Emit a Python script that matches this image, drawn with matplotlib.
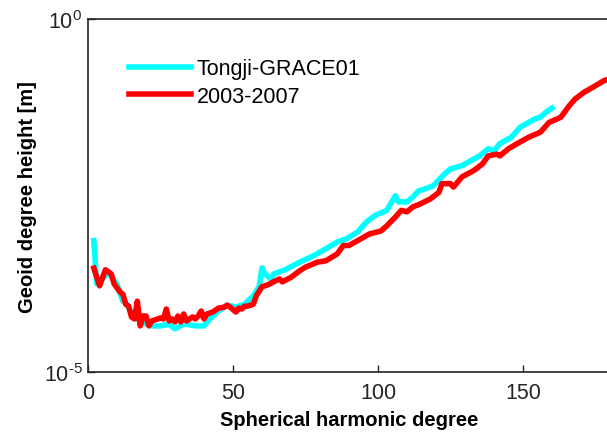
import matplotlib
matplotlib.use('Agg')
import matplotlib.pyplot as plt

plt.rcParams['font.family'] = ['Liberation Sans', 'DejaVu Sans']
plt.rcParams['mathtext.fontset'] = 'custom'
plt.rcParams['mathtext.rm'] = 'Liberation Sans'
plt.rcParams['mathtext.default'] = 'regular'

# Tongji-GRACE01 (degree, geoid degree height in m)
deg_tongji = [2, 3, 5, 7, 10, 12, 13, 15, 17, 18, 22, 25, 28, 30, 33, 37, 40, 42,
              45, 48, 51, 54, 55, 57, 59, 60, 61, 63, 64, 68, 73, 78, 82, 86, 89,
              93, 96, 99, 103, 106, 107, 110, 112, 114, 116, 119, 123, 125, 129,
              132, 135, 138, 140, 142, 146, 149, 152, 154, 156, 158, 160]
val_tongji = [7.30e-4, 1.78e-4, 2.09e-4, 2.61e-4, 1.76e-4, 1.01e-4, 9.74e-5, 6.90e-5,
              5.65e-5, 5.14e-5, 4.51e-5, 4.51e-5, 4.74e-5, 4.09e-5, 4.81e-5, 4.51e-5,
              4.51e-5, 5.65e-5, 7.32e-5, 8.88e-5, 8.33e-5, 9.14e-5, 1.01e-4, 1.20e-4,
              1.62e-4, 2.99e-4, 2.46e-4, 2.09e-4, 2.46e-4, 2.82e-4, 3.61e-4, 4.50e-4,
              5.60e-4, 7.00e-4, 7.71e-4, 9.69e-4, 1.34e-3, 1.66e-3, 1.96e-3, 3.16e-3,
              2.59e-3, 2.59e-3, 3.03e-3, 3.71e-3, 3.92e-3, 4.36e-3, 6.46e-3, 7.60e-3,
              8.44e-3, 9.95e-3, 1.16e-2, 1.47e-2, 1.37e-2, 1.73e-2, 2.14e-2, 2.96e-2,
              3.47e-2, 3.87e-2, 4.12e-2, 4.87e-2, 5.53e-2]

# 2003-2007
deg_0307 = [2, 4, 6, 8, 9, 11, 12, 13, 14, 15, 16, 17, 18, 19, 20, 21, 22, 23, 25,
            26, 27, 28, 29, 30, 31, 32, 33, 34, 36, 37, 38, 39, 40, 41, 43, 45, 47,
            48, 49, 51, 52, 53, 54, 55, 57, 58, 60, 62, 64, 66, 67, 70, 73, 75, 79,
            82, 86, 88, 90, 94, 97, 101, 103, 106, 108, 110, 112, 114, 118, 121,
            122, 125, 126, 129, 133, 136, 138, 141, 142, 145, 149, 152, 156, 159,
            163, 166, 168, 171, 173, 175, 178, 180]
val_0307 = [2.97e-4, 1.67e-4, 2.82e-4, 2.46e-4, 1.78e-4, 1.37e-4, 1.27e-4, 9.14e-5,
            8.59e-5, 6.03e-5, 5.65e-5, 1.01e-4, 4.51e-5, 6.23e-5, 6.23e-5, 4.51e-5,
            5.30e-5, 5.47e-5, 5.84e-5, 5.65e-5, 7.81e-5, 5.30e-5, 5.65e-5, 5.14e-5,
            6.23e-5, 5.14e-5, 6.65e-5, 5.30e-5, 6.03e-5, 5.65e-5, 6.23e-5, 7.32e-5,
            5.65e-5, 6.65e-5, 7.09e-5, 8.06e-5, 8.33e-5, 8.88e-5, 8.33e-5, 7.09e-5,
            8.06e-5, 7.81e-5, 8.59e-5, 8.59e-5, 9.14e-5, 1.20e-4, 1.62e-4, 1.72e-4,
            1.90e-4, 2.09e-4, 1.90e-4, 2.20e-4, 2.73e-4, 3.07e-4, 3.61e-4, 3.77e-4,
            4.76e-4, 6.22e-4, 6.22e-4, 7.71e-4, 9.06e-4, 1.00e-3, 1.18e-3, 1.58e-3,
            1.96e-3, 1.87e-3, 2.20e-3, 2.36e-3, 2.84e-3, 3.53e-3, 4.69e-3, 4.69e-3,
            4.19e-3, 5.87e-3, 7.19e-3, 8.92e-3, 1.16e-2, 1.23e-2, 1.16e-2, 1.47e-2,
            1.83e-2, 2.14e-2, 2.52e-2, 3.47e-2, 4.09e-2, 6.01e-2, 7.47e-2, 9.25e-2,
            0.103, 0.115, 0.136, 0.144]

yticks = [1e-5, 1e0]
ytick_labels = [r'$10^{\text{-}5}$', r'$10^{0}$']

fig = plt.figure(figsize=(6.07, 4.35), dpi=100)
ax = fig.add_axes([0.145, 0.1425, 0.860, 0.8105])

ax.semilogy(deg_tongji, val_tongji, color='#00ffff', linewidth=4, label='Tongji-GRACE01')
ax.semilogy(deg_0307, val_0307, color='#ff0000', linewidth=4, label='2003-2007')

ax.set_xlim(0, 180)
ax.set_ylim(1e-5, 1e0)
ax.set_xticks([0, 50, 100, 150])
ax.set_yticks(yticks)
ax.set_yticklabels(ytick_labels)
ax.minorticks_off()
ax.tick_params(direction='in', length=5, width=1, colors='#262626', labelsize=15.5)
ax.tick_params(axis='x', pad=7)
ax.tick_params(axis='y', pad=4)
for s in ax.spines.values():
    s.set_color('#262626')
    s.set_linewidth(1.2)

ax.set_xlabel('Spherical harmonic degree', fontsize=14.5, fontweight='bold', labelpad=5)
ax.set_ylabel('Geoid degree height [m]', fontsize=14.5, fontweight='bold', labelpad=5)

ax.legend(loc='upper left', bbox_to_anchor=(0.041, 0.945), frameon=False, fontsize=15.5,
          handlelength=2.9, handletextpad=0.25, labelspacing=0.3)

fig.savefig('out.png', dpi=100)
